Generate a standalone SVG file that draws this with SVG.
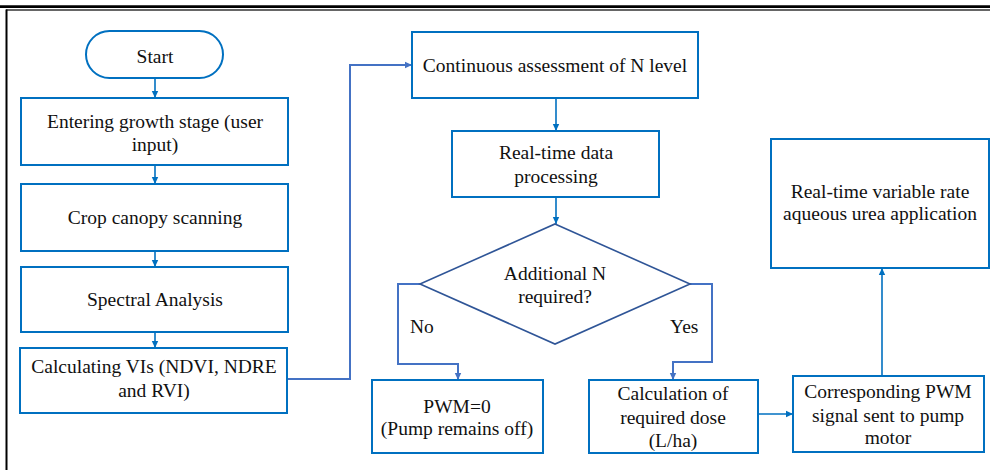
<svg xmlns="http://www.w3.org/2000/svg" width="990" height="470" viewBox="0 0 990 470">
<defs>
<style>
.box{fill:#fff;stroke:#0070C0;stroke-width:2}
.dia{fill:#fff;stroke:#2F5597;stroke-width:1.6}
.t{font-family:'Liberation Serif','DejaVu Serif',serif;font-size:19.5px;fill:#111;text-anchor:middle}
.tl{font-family:'Liberation Serif','DejaVu Serif',serif;font-size:19.5px;fill:#111}
.c1{fill:none;stroke:#0070C0;stroke-width:1.6}
.c2{fill:none;stroke:#4472C4;stroke-width:2}
</style>
<marker id="a1" markerUnits="userSpaceOnUse" markerWidth="8" markerHeight="8" refX="7" refY="4" orient="auto">
<path d="M0,0.8 L7,4 L0,7.2 Z" fill="#0070C0"/>
</marker>
<marker id="a2" markerUnits="userSpaceOnUse" markerWidth="8" markerHeight="8" refX="7" refY="4" orient="auto">
<path d="M0,0.8 L7,4 L0,7.2 Z" fill="#4472C4"/>
</marker>
</defs>
<rect width="990" height="470" fill="#fff"/>
<g id="frame">
<line x1="0" y1="6.6" x2="990" y2="6.6" stroke="#000" stroke-width="2.6"/>
<line x1="6" y1="10" x2="990" y2="10" stroke="#333" stroke-width="1.4"/>
<line x1="6.5" y1="9.5" x2="6.5" y2="470" stroke="#000" stroke-width="2"/>
</g>
<g id="connectors">
<line class="c1" x1="155" y1="78" x2="155" y2="98" marker-end="url(#a1)"/>
<line class="c1" x1="155" y1="165" x2="155" y2="184" marker-end="url(#a1)"/>
<line class="c1" x1="155" y1="251" x2="155" y2="267" marker-end="url(#a1)"/>
<line class="c1" x1="155" y1="332" x2="155" y2="348" marker-end="url(#a1)"/>
<polyline class="c2" points="287,379 350,379 350,65 412,65" marker-end="url(#a2)"/>
<line class="c1" x1="556" y1="98" x2="556" y2="131" marker-end="url(#a1)"/>
<line class="c1" x1="556" y1="197" x2="556" y2="224" marker-end="url(#a1)"/>
<polyline class="c2" points="420,284 398,284 398,364 458,364 458,380" marker-end="url(#a2)"/>
<polyline class="c2" points="690,284 712,284 712,362 673,362 673,380" marker-end="url(#a2)"/>
<line class="c1" x1="758" y1="414" x2="793" y2="414" marker-end="url(#a1)"/>
<line class="c1" x1="882" y1="376" x2="882" y2="268" marker-end="url(#a1)"/>
</g>
<g id="start">
<rect class="box" x="86" y="31" width="137" height="47" rx="23.5"/>
<text class="t" x="155" y="63">Start</text>
</g>
<g id="growth">
<rect class="box" x="21" y="98" width="267" height="67"/>
<text class="t" x="155" y="128">Entering growth stage (user</text>
<text class="t" x="155" y="151">input)</text>
</g>
<g id="scan">
<rect class="box" x="21" y="184" width="267" height="67"/>
<text class="t" x="155" y="224">Crop canopy scanning</text>
</g>
<g id="spectral">
<rect class="box" x="21" y="267" width="267" height="65"/>
<text class="t" x="155" y="306">Spectral Analysis</text>
</g>
<g id="vis">
<rect class="box" x="20" y="348" width="267" height="65"/>
<text class="t" x="154" y="373">Calculating VIs (NDVI, NDRE</text>
<text class="t" x="154" y="397">and RVI)</text>
</g>
<g id="assess">
<rect class="box" x="412" y="32" width="286" height="66"/>
<text class="t" x="555" y="72">Continuous assessment of N level</text>
</g>
<g id="process">
<rect class="box" x="452" y="131" width="207" height="66"/>
<text class="t" x="556" y="159">Real-time data</text>
<text class="t" x="556" y="183">processing</text>
</g>
<g id="decision">
<polygon class="dia" points="555,224 690,284 555,344 420,284"/>
<text class="t" x="555" y="280">Additional N</text>
<text class="t" x="555" y="303">required?</text>
<text class="tl" x="410" y="333">No</text>
<text class="tl" x="670" y="333">Yes</text>
</g>
<g id="pwm0">
<rect class="box" x="372" y="380" width="171" height="73"/>
<text class="t" x="457" y="413">PWM=0</text>
<text class="t" x="457" y="435">(Pump remains off)</text>
</g>
<g id="dose">
<rect class="box" x="589" y="380" width="169" height="73"/>
<text class="t" x="673" y="400">Calculation of</text>
<text class="t" x="673" y="424">required dose</text>
<text class="t" x="673" y="447">(L/ha)</text>
</g>
<g id="pwmsignal">
<rect class="box" x="793" y="376" width="191" height="76"/>
<text class="t" x="888" y="398">Corresponding PWM</text>
<text class="t" x="888" y="422">signal sent to pump</text>
<text class="t" x="888" y="444">motor</text>
</g>
<g id="apply">
<rect class="box" x="771" y="139" width="218" height="129"/>
<text class="t" x="880" y="198">Real-time variable rate</text>
<text class="t" x="880" y="220">aqueous urea application</text>
</g>
</svg>
